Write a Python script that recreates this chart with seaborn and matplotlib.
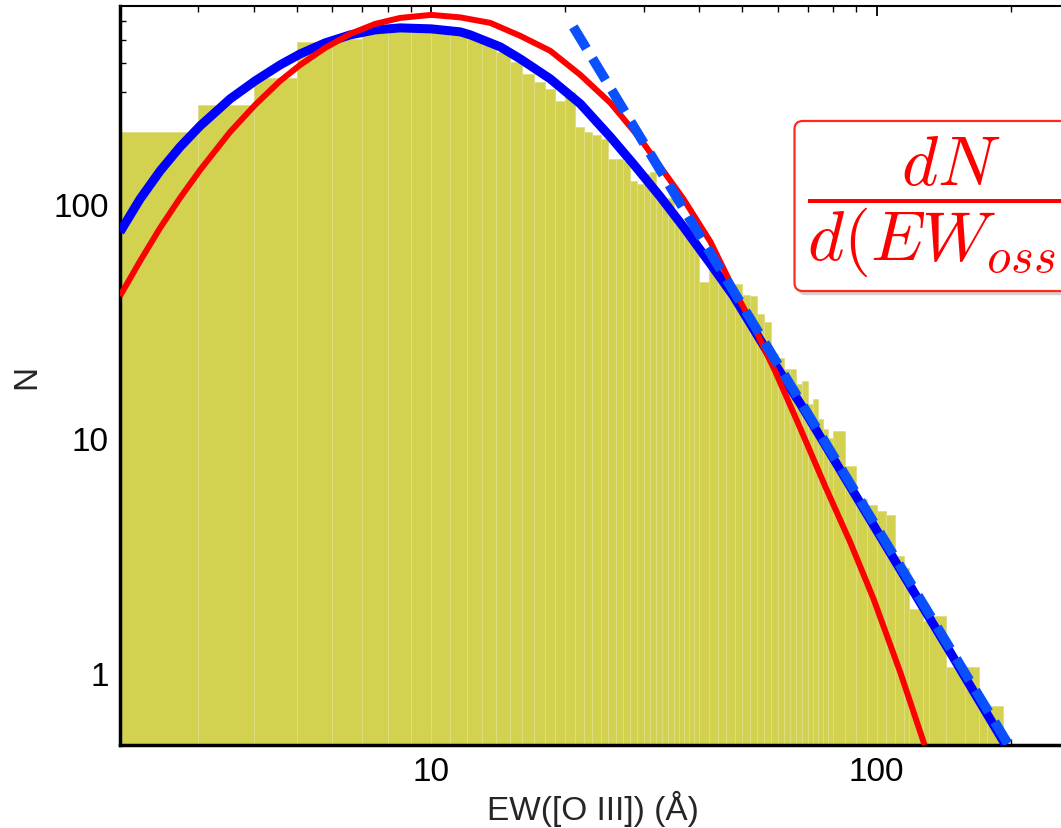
import numpy as np
import pandas as pd
import matplotlib
matplotlib.use('Agg')
import matplotlib.pyplot as plt
import matplotlib.patheffects as pe
from matplotlib.ticker import NullFormatter
import seaborn as sns

# histogram bins (EW in Angstrom) and counts per bin
bin_edges = (list(range(2, 41)) + list(range(42, 81, 2))
             + [85, 90, 95, 100, 105, 110, 115, 118, 127, 131, 143, 158, 170, 177, 192])
bin_counts = [203, 264, 344, 490, 505, 536, 548, 560, 574, 552,
              520, 494, 445, 404, 358, 331, 309, 275, 300, 213,
              202, 197, 189, 155, 155, 152, 125, 122, 134, 137,
              105, 106, 106, 82, 80, 78, 71, 67,
              46.5, 54, 46, 43, 45.5, 41, 40.5, 34, 31.5, 23,
              22, 19.8, 19.8, 17.1, 17.6, 14, 14.7, 12.1, 11, 10,
              10.8, 7.6, 5.5, 5.2, 4.9, 4.7, 3.15, 2.8, 1.87, 1.66,
              1.75, 1.06, 1.06, 0.72, 0.72]

# red fit (lognormal)
red_ew = [2.000, 2.219, 2.461, 2.729, 3.027, 3.535, 4.022, 4.578, 5.077, 5.779,
          6.577, 7.485, 8.518, 10.0, 11.62, 13.57, 15.85, 18.51, 21.62, 25.25,
          29.49, 32.71, 36.84, 42.37, 47.72, 52.92, 59.30, 67.48, 76.80, 87.41,
          98.46, 113.2, 128.2]
red_n = [40.5, 57.1, 79.0, 106.1, 139.6, 202.8, 264.4, 334.6, 391.5, 462.7,
         530.9, 585.6, 621, 639.7, 624.2, 591.4, 520.5, 449.3, 354.9, 269.6,
         189.3, 143.8, 105.0, 68.9, 43.4, 30.2, 19.21, 11.0, 6.21, 3.585,
         2.07, 1.0, 0.493]

# blue fit
blue_ew = [2.000, 2.219, 2.461, 2.729, 3.027, 3.535, 4.022, 4.578, 5.077, 5.779,
           6.577, 7.485, 8.518, 10.0, 11.62, 12.24, 14.29, 15.85, 18.51, 21.62,
           25.25, 28.44, 32.71, 36.84, 42.37, 47.72, 59.30, 67.48, 87.41, 113.2,
           146.7, 194.9]
blue_n = [75.9, 105.0, 138.3, 175.1, 215.1, 280.5, 334.6, 391.5, 436.1, 486.0,
          525.6, 552.1, 563.0, 557.6, 541.4, 525.6, 467.3, 415.2, 341.2, 267.0,
          193.1, 148.1, 107.1, 79.8, 55.5, 40.5, 20.58, 14.03, 6.21, 2.75,
          1.217, 0.493]

# power-law tail
pl_ew = [20.85, 198]
pl_n = [568.6, 0.493]

sns.set_style('ticks')
plt.rcParams['font.family'] = ['Liberation Sans', 'DejaVu Sans']
plt.rcParams['mathtext.fontset'] = 'cm'

fig = plt.figure(figsize=(10.61, 8.29), dpi=100)
ax = fig.add_axes([120 / 1061, 1 - 746 / 829, 945 / 1061, 739 / 829])

centers = [(a + b) / 2 for a, b in zip(bin_edges[:-1], bin_edges[1:])]
sns.histplot(x=centers, weights=bin_counts, bins=bin_edges, ax=ax,
             color='#d2d250', alpha=1, edgecolor='#dede86', linewidth=0.6, zorder=1)

sns.lineplot(x=blue_ew, y=blue_n, ax=ax, color='#0000ff', lw=6.5, zorder=3,
             solid_capstyle='butt', solid_joinstyle='round')
sns.lineplot(x=red_ew, y=red_n, ax=ax, color='#ff0000', lw=4.3, zorder=4,
             solid_capstyle='butt', solid_joinstyle='round')
sns.lineplot(x=pl_ew, y=pl_n, ax=ax, color='#0a50ff', lw=7, zorder=5,
             linestyle=(0, (2.6, 1.2)))

ax.set_xscale('log')
ax.set_yscale('log')
ax.set_xlim(2.0, 265)
ax.set_ylim(0.493, 698)

ax.set_xticks([10, 100], labels=['10', '100'])
ax.set_yticks([1, 10, 100], labels=['1', '10', '100'])
ax.xaxis.set_minor_formatter(NullFormatter())
ax.yaxis.set_minor_formatter(NullFormatter())
ax.tick_params(which='both', direction='in', top=True, right=False,
               labelsize=24, colors='black')
ax.tick_params(axis='x', which='both', pad=8)
ax.tick_params(axis='y', which='both', pad=8)
ax.tick_params(which='major', length=7, width=1.3)
ax.tick_params(which='minor', length=4, width=1.0)

for side in ['left', 'bottom']:
    ax.spines[side].set_linewidth(2.5)
    ax.spines[side].set_color('black')
ax.spines['top'].set_visible(True)
ax.spines['top'].set_linewidth(1.5)
ax.spines['top'].set_color('black')

ax.set_xlabel('EW([O III]) (Å)', fontsize=24, labelpad=2)
ax.set_ylabel('N', fontsize=24, labelpad=8)

txt = fig.text(807 / 1061, 1 - 207 / 829,
               r'$\dfrac{dN}{d(EW_{oss})}\ \propto\ EW_{oss}^{-3.1}$',
               fontsize=50, color='#ff0000', ha='left', va='center', zorder=10,
               bbox=dict(boxstyle='round,pad=0.18,rounding_size=0.12',
                         fc='white', ec='#ff2a1a', lw=1.6))
txt.get_bbox_patch().set_path_effects(
    [pe.withSimplePatchShadow(offset=(2, -3), shadow_rgbFace='gray', alpha=0.35)])

fig.savefig('out.png', dpi=100)
